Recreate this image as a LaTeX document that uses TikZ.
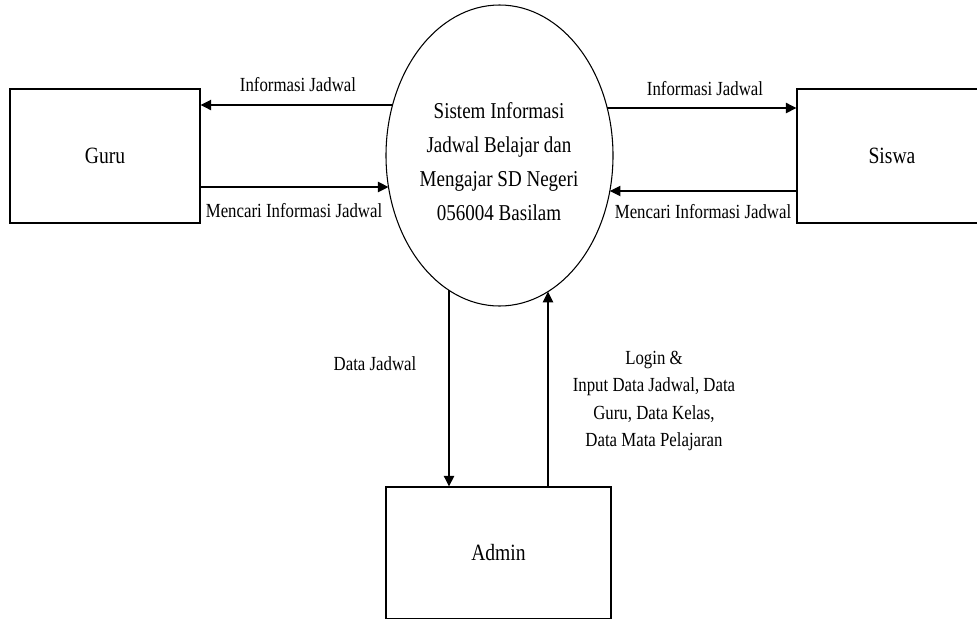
\documentclass[tikz,border=0pt]{standalone}
\usepackage{fontspec}
\setmainfont{Liberation Serif}[FakeStretch=0.84]
\usetikzlibrary{arrows.meta,shapes.geometric}
\begin{document}
\begin{tikzpicture}[x=0.75pt,y=-0.75pt,
  box/.style={draw, line width=0.8pt, minimum width=142.5pt, minimum height=100.5pt, inner sep=0pt, font=\fontsize{17.5}{21}\selectfont},
  proc/.style={draw, ellipse, line width=0.8pt, minimum width=170.25pt, minimum height=225.75pt, inner sep=0pt},
  proctext/.style={inner sep=0pt, align=center, font=\fontsize{17}{25.5}\selectfont},
  lbl/.style={inner sep=0pt, align=center, font=\fontsize{15}{20.3}\selectfont},
  flow/.style={line width=0.9pt, -{Triangle[length=8pt,width=7.8pt]}}]
\clip (0,0) rectangle (977,618);
\useasboundingbox (0,0) rectangle (977,618);

\node[box] (guru) at (105,156) {Guru};
\node[box] (siswa) at (892,156) {Siswa};
\node[box, minimum width=168.75pt, minimum height=99pt] (admin) at (498.5,553) {Admin};
\node[proc] (sys) at (499.5,155.5) {};
\node[proctext] (systext) at (499,161.5) {Sistem Informasi\\Jadwal Belajar dan\\Mengajar SD Negeri\\056004 Basilam};

\coordinate (gA) at (392.6,105);
\coordinate (gB) at (388.5,187);
\coordinate (sA) at (607.2,108);
\coordinate (sB) at (609.8,191);
\coordinate (dA) at (449,290.3);
\coordinate (uA) at (548,291.6);

\draw[flow] (gA) -- (gA -| guru.east);
\draw[flow] (gB -| guru.east) -- (gB);
\draw[flow] (sA) -- (sA -| siswa.west);
\draw[flow] (sB -| siswa.west) -- (sB);
\draw[flow] (dA) -- (dA |- admin.north);
\draw[flow] (uA |- admin.north) -- (uA);

\node[lbl] (l1) at (298,85) {Informasi Jadwal};
\node[lbl] (l2) at (294,211) {Mencari Informasi Jadwal};
\node[lbl] (l3) at (705,89) {Informasi Jadwal};
\node[lbl] (l4) at (703,212) {Mencari Informasi Jadwal};
\node[lbl] (l5) at (375,364) {Data Jadwal};
\node[lbl] (l6) at (654,401) {Login \&\\Input Data Jadwal, Data\\Guru, Data Kelas,\\Data Mata Pelajaran};
\end{tikzpicture}
\end{document}
